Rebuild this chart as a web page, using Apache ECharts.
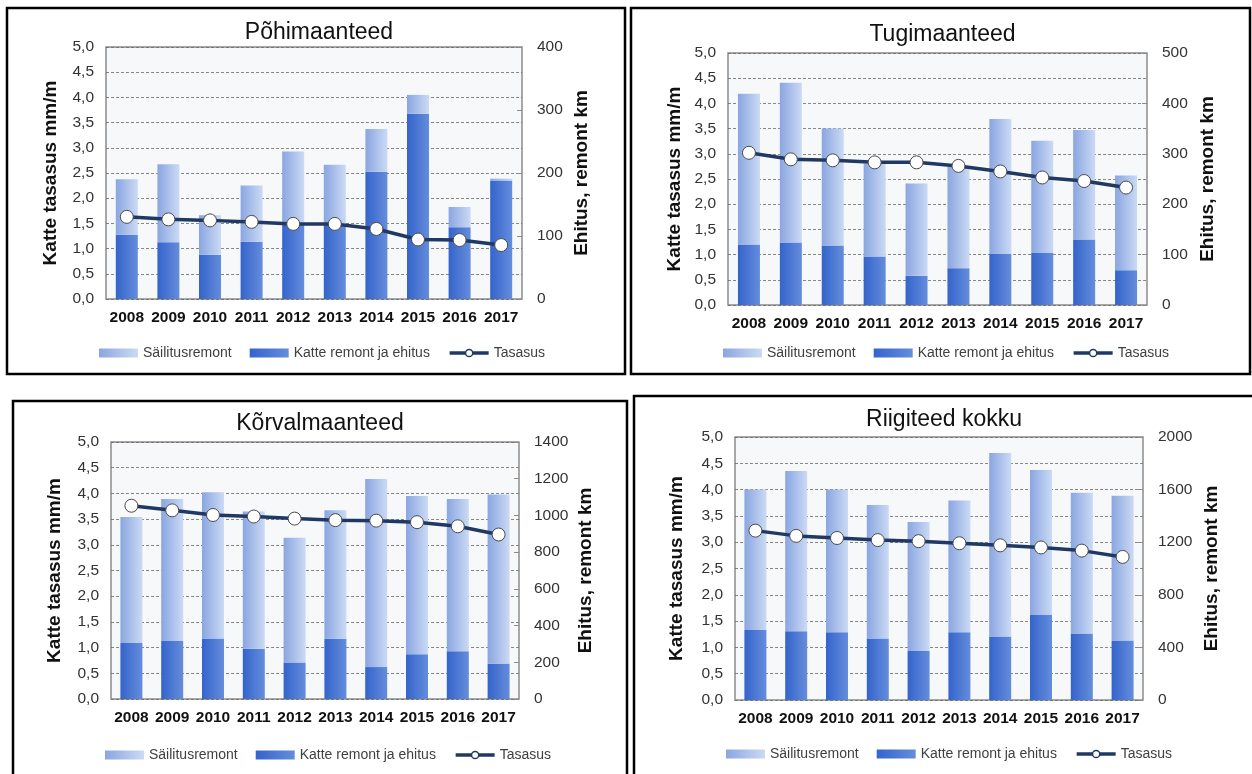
<!DOCTYPE html>
<html>
<head>
<meta charset="utf-8">
<script src="https://cdn.jsdelivr.net/npm/echarts@6/dist/echarts.min.js"></script>
<style>
  html, body { margin: 0; padding: 0; background: #fff; }
  #chart { width: 1252px; height: 774px; }
</style>
</head>
<body>
<div id="chart"></div>
<script>
// Road surface evenness (mm/m, left axis) and repaired length (km, right axis), 2008-2017
const years = ['2008', '2009', '2010', '2011', '2012', '2013', '2014', '2015', '2016', '2017'];

// Põhimaanteed
const pohiSailitus = [88, 124, 63, 89, 114, 95, 68, 30, 32, 3];
const pohiKatte    = [102, 90, 70, 91, 120, 118, 202, 294, 114, 188];
const pohiTasasus  = [1.63, 1.58, 1.56, 1.53, 1.49, 1.49, 1.39, 1.18, 1.17, 1.07];
const pohiKmTicks  = [0, 400, 100];

// Tugimaanteed
const tugiSailitus = [299, 317, 232, 185, 183, 201, 268, 223, 217, 188];
const tugiKatte    = [120, 124, 118, 96, 58, 73, 101, 103, 130, 69];
const tugiTasasus  = [3.02, 2.89, 2.87, 2.83, 2.83, 2.76, 2.65, 2.53, 2.46, 2.33];
const tugiKmTicks  = [0, 500, 100];

// Kõrvalmaanteed
const korvSailitus = [686, 773, 796, 748, 680, 700, 1024, 862, 829, 921];
const korvKatte    = [305, 316, 330, 274, 199, 328, 174, 244, 260, 193];
const korvTasasus  = [3.76, 3.67, 3.58, 3.55, 3.51, 3.48, 3.47, 3.44, 3.36, 3.20];
const korvKmTicks  = [0, 1400, 200];

// Riigiteed kokku
const kokkuSailitus = [1067, 1218, 1085, 1015, 980, 1003, 1396, 1102, 1071, 1101];
const kokkuKatte    = [533, 523, 515, 467, 373, 515, 482, 647, 505, 452];
const kokkuTasasus  = [3.22, 3.12, 3.08, 3.04, 3.02, 2.98, 2.94, 2.90, 2.84, 2.72];
const kokkuKmTicks  = [0, 2000, 400];

const tasasusTicks = [0, 5, 0.5];

const panels = [
  { title: 'Põhimaanteed', light: pohiSailitus, dark: pohiKatte, line: pohiTasasus, km: pohiKmTicks,
    grid: { left: 106, top: 47, width: 416, height: 252 },
    frame: [7, 8, 618, 366], titleY: 16, legend: { left: 94, top: 341 }, leftGap: 46, rightGap: 50 },
  { title: 'Tugimaanteed', light: tugiSailitus, dark: tugiKatte, line: tugiTasasus, km: tugiKmTicks,
    grid: { left: 728, top: 53, width: 419, height: 252 },
    frame: [631, 8, 619, 366], titleY: 18, legend: { left: 718, top: 341 }, leftGap: 44, rightGap: 51 },
  { title: 'Kõrvalmaanteed', light: korvSailitus, dark: korvKatte, line: korvTasasus, km: korvKmTicks,
    grid: { left: 111, top: 442, width: 408, height: 257 },
    frame: [13, 401, 614, 390], titleY: 407, legend: { left: 100, top: 743 }, leftGap: 47, rightGap: 57 },
  { title: 'Riigiteed kokku', light: kokkuSailitus, dark: kokkuKatte, line: kokkuTasasus, km: kokkuKmTicks,
    grid: { left: 735, top: 437, width: 408, height: 263 },
    frame: [634, 396, 630, 390], titleY: 403, legend: { left: 721, top: 742 }, leftGap: 49, rightGap: 59 }
];

const FONT = 'Liberation Sans, Arial, sans-serif';
const lightFill = new echarts.graphic.LinearGradient(0, 0, 1, 0, [
  { offset: 0, color: '#8aa6e1' }, { offset: 1, color: '#cbdaf4' }
]);
const darkFill = new echarts.graphic.LinearGradient(0, 0, 1, 0, [
  { offset: 0, color: '#3464cb' }, { offset: 1, color: '#658ddc' }
]);

const option = {
  backgroundColor: '#ffffff',
  animation: false,
  title: [], grid: [], xAxis: [], yAxis: [], series: [], legend: [], graphic: []
};

panels.forEach((p, i) => {
  const g = p.grid;
  option.grid.push({
    left: g.left, top: g.top, width: g.width, height: g.height,
    show: true, backgroundColor: '#f7f8fa', borderColor: '#8c8c8c', borderWidth: 1.5
  });
  option.title.push({
    text: p.title, left: g.left + g.width / 2, top: p.titleY, textAlign: 'center',
    textStyle: { fontFamily: FONT, fontSize: 23, fontWeight: 'normal', color: '#111' }
  });
  option.graphic.push({
    type: 'rect', silent: true, z: 100,
    shape: { x: p.frame[0], y: p.frame[1], width: p.frame[2], height: p.frame[3] },
    style: { fill: 'none', stroke: '#000', lineWidth: 2.5 }
  });
  option.xAxis.push({
    type: 'category', gridIndex: i, data: years,
    axisLine: { show: false }, axisTick: { show: false },
    axisLabel: { interval: 0, margin: 11, fontFamily: FONT, fontSize: 15.5, fontWeight: 'bold', color: '#111' }
  });
  option.yAxis.push({
    type: 'value', gridIndex: i, position: 'left',
    min: tasasusTicks[0], max: tasasusTicks[1], interval: tasasusTicks[2],
    name: 'Katte tasasus mm/m', nameLocation: 'middle', nameGap: p.leftGap,
    nameTextStyle: { fontFamily: FONT, fontSize: 19, fontWeight: 'bold', color: '#111' },
    axisLine: { show: false }, axisTick: { show: false },
    axisLabel: { margin: 12, fontFamily: FONT, fontSize: 15.5, color: '#333',
      formatter: v => v.toFixed(1).replace('.', ',') },
    splitLine: { show: true, lineStyle: { color: '#6a6a6a', width: 0.8, type: [3, 2] } }
  });
  option.yAxis.push({
    type: 'value', gridIndex: i, position: 'right',
    min: p.km[0], max: p.km[1], interval: p.km[2],
    name: 'Ehitus, remont km', nameLocation: 'middle', nameGap: p.rightGap,
    nameTextStyle: { fontFamily: FONT, fontSize: 19, fontWeight: 'bold', color: '#111' },
    axisLine: { show: false },
    axisTick: { show: true, inside: true, length: 5, lineStyle: { color: '#8c8c8c' } },
    axisLabel: { margin: 15, fontFamily: FONT, fontSize: 15.5, color: '#333',
      formatter: v => String(v) },
    splitLine: { show: false }
  });
  const stack = 'remont' + i;
  option.series.push({
    name: 'Katte remont ja ehitus', type: 'bar', stack, xAxisIndex: i, yAxisIndex: 2 * i + 1,
    data: p.dark, barWidth: 22, itemStyle: { color: darkFill }, z: 2
  });
  option.series.push({
    name: 'Säilitusremont', type: 'bar', stack, xAxisIndex: i, yAxisIndex: 2 * i + 1,
    data: p.light, barWidth: 22, itemStyle: { color: lightFill }, z: 2
  });
  option.series.push({
    name: 'Tasasus', type: 'line', xAxisIndex: i, yAxisIndex: 2 * i,
    data: p.line, symbol: 'circle', symbolSize: 13, z: 5,
    lineStyle: { color: '#1f3864', width: 3.5 },
    itemStyle: { color: '#ffffff', borderColor: '#4a4a4a', borderWidth: 1 }
  });
  option.legend.push({
    left: p.legend.left, top: p.legend.top, itemWidth: 39, itemHeight: 9, itemGap: 18,
    selectedMode: false,
    textStyle: { fontFamily: FONT, fontSize: 14, color: '#404040' },
    data: [
      { name: 'Säilitusremont', icon: 'rect' },
      { name: 'Katte remont ja ehitus', icon: 'rect' },
      { name: 'Tasasus', itemStyle: { color: '#ffffff', borderColor: '#1f3864', borderWidth: 1.5 },
        lineStyle: { color: '#1f3864', width: 3.5 } }
    ]
  });
});

const chart = echarts.init(document.getElementById('chart'), null, { renderer: 'canvas' });
chart.setOption(option);
</script>
</body>
</html>
